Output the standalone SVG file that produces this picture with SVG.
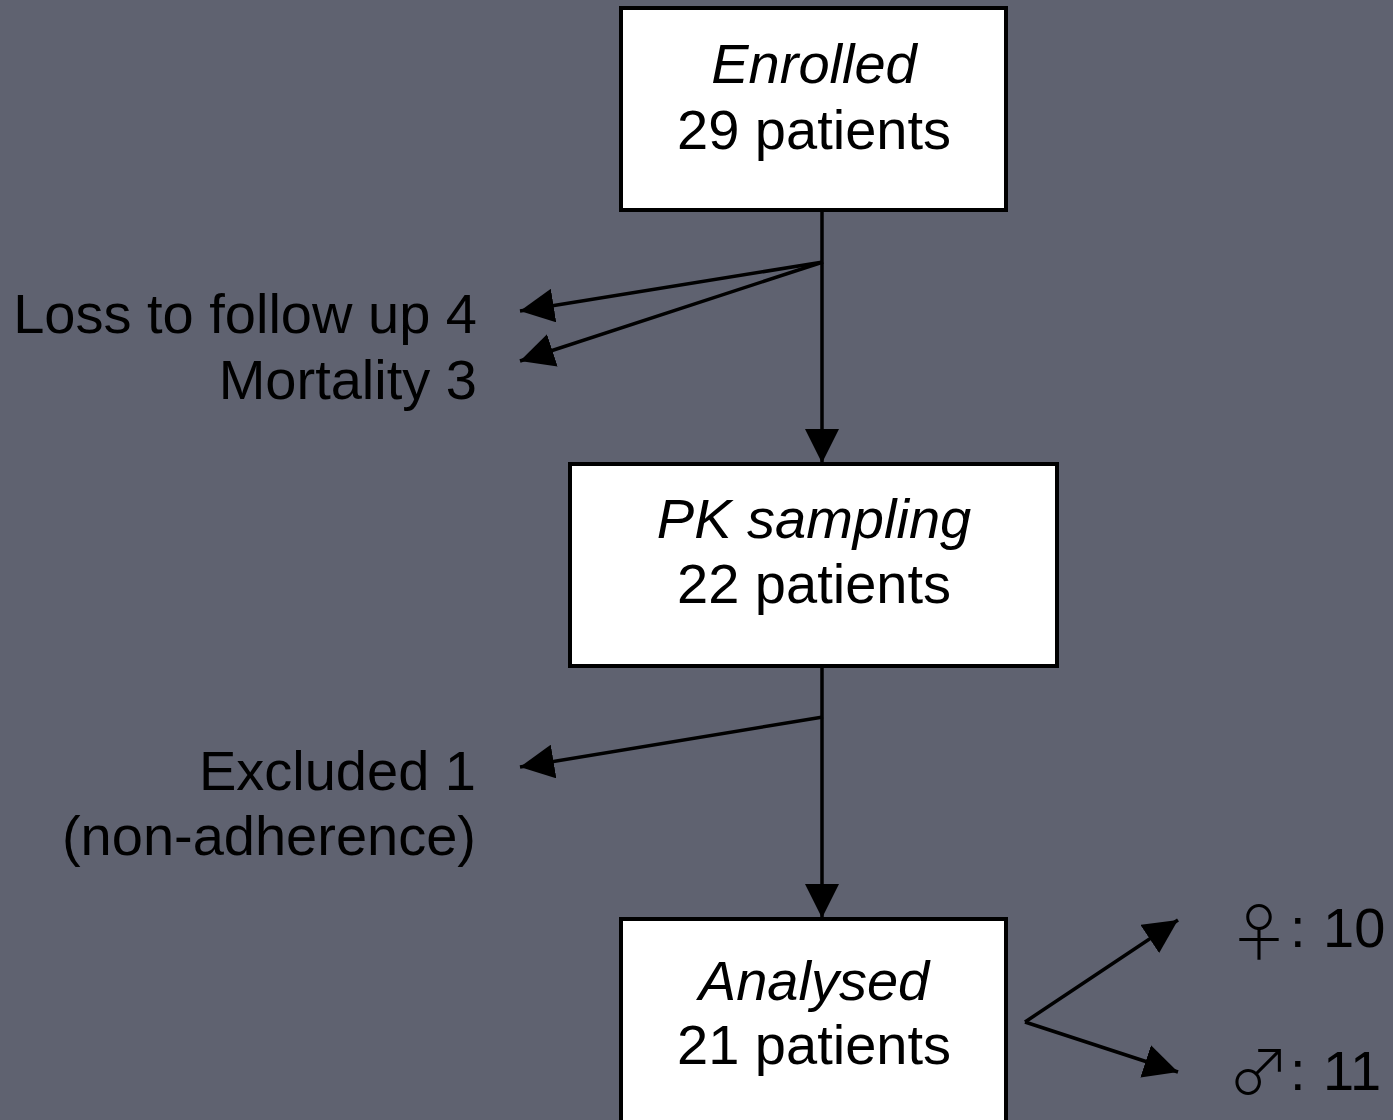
<svg xmlns="http://www.w3.org/2000/svg" width="1393" height="1120" viewBox="0 0 1393 1120">
<defs>
<marker id="ah" markerUnits="userSpaceOnUse" markerWidth="34" markerHeight="34" viewBox="0 0 33 33" refX="33" refY="16.5" orient="auto">
<path d="M0,0 L33,16.5 L0,33 Z" fill="#000"/>
</marker>
<style>
.box{fill:#fff;stroke:#000;stroke-width:4}
.t{font-family:"Liberation Sans",Arial,sans-serif;font-size:56px;fill:#000}
.sym{font-family:"Noto Sans CJK JP","Noto Sans CJK SC",sans-serif;font-size:62px;font-weight:300}
.c{text-anchor:middle}
.r{text-anchor:end}
.i{font-style:italic}
.arr{fill:none;stroke:#000;stroke-width:3.5;marker-end:url(#ah)}
</style>
</defs>
<rect width="1393" height="1120" fill="#5f6270"/>
<g id="connectors">
<line class="arr" x1="822" y1="210" x2="822" y2="463"/>
<line class="arr" x1="823" y1="262" x2="520" y2="311"/>
<line class="arr" x1="823" y1="262" x2="520" y2="361"/>
<line class="arr" x1="822" y1="666" x2="822" y2="918"/>
<line class="arr" x1="823" y1="717" x2="520" y2="767"/>
<line class="arr" x1="1025" y1="1022" x2="1178" y2="920"/>
<line class="arr" x1="1025" y1="1022" x2="1178" y2="1072"/>
</g>
<g id="enrolled">
<rect class="box" x="621" y="8" width="385" height="202"/>
<text class="t c i" x="814" y="83">Enrolled</text>
<text class="t c" x="814" y="149">29 patients</text>
</g>
<g id="pk">
<rect class="box" x="570" y="464" width="487" height="202"/>
<text class="t c i" x="814" y="538">PK sampling</text>
<text class="t c" x="814" y="603">22 patients</text>
</g>
<g id="analysed">
<rect class="box" x="621" y="919" width="385" height="210"/>
<text class="t c i" x="814" y="1000">Analysed</text>
<text class="t c" x="814" y="1064">21 patients</text>
</g>
<g id="loss">
<text class="t r" x="477" y="333">Loss to follow up 4</text>
<text class="t r" x="477" y="399">Mortality 3</text>
</g>
<g id="excluded">
<text class="t r" x="476" y="790">Excluded 1</text>
<text class="t r" x="476" y="855">(non-adherence)</text>
</g>
<g id="female">
<text class="t"><tspan class="sym" x="1228" y="956">♀</tspan><tspan x="1290" y="947">:</tspan><tspan x="1323" y="947">10</tspan></text>
</g>
<g id="male">
<text class="t"><tspan class="sym" x="1228" y="1095">♂</tspan><tspan x="1290" y="1090">:</tspan><tspan x="1323" y="1090">11</tspan></text>
</g>
</svg>
